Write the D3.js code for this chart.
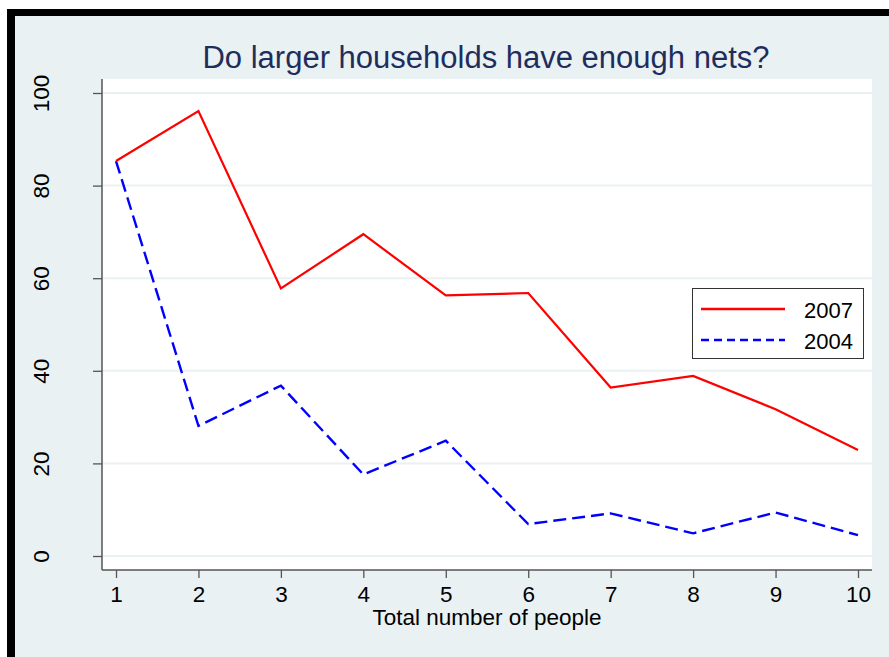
<!DOCTYPE html>
<html>
<head>
<meta charset="utf-8">
<script src="https://cdn.jsdelivr.net/npm/d3@7"></script>
<style>
  html, body { margin: 0; padding: 0; background: #ffffff; }
  svg { display: block; }
  text { font-family: "Liberation Sans", Arial, Helvetica, sans-serif; }
</style>
</head>
<body>
<script>
// ---- data ----
const householdSize = [1, 2, 3, 4, 5, 6, 7, 8, 9, 10];
const nets2007 = [85.3, 96.1, 57.8, 69.5, 56.3, 56.8, 36.4, 38.9, 31.7, 22.9];
const nets2004 = [85.3, 28.1, 36.8, 17.6, 24.9, 6.9, 9.2, 4.9, 9.4, 4.5];
const yTicks = [0, 20, 40, 60, 80, 100];
const xTicks = [1, 2, 3, 4, 5, 6, 7, 8, 9, 10];
const seriesNames = ["2007", "2004"];
const titleText = "Do larger households have enough nets?";
const xTitle = "Total number of people";

// ---- layout ----
const W = 889, H = 657;
const svg = d3.select("body").append("svg").attr("width", W).attr("height", H);

// outer frame
svg.append("rect").attr("x", 0).attr("y", 0).attr("width", W).attr("height", H).attr("fill", "#ffffff");
svg.append("rect").attr("x", 7).attr("y", 9).attr("width", W - 7).attr("height", H - 9).attr("fill", "#000000");
svg.append("rect").attr("x", 15).attr("y", 16).attr("width", W - 15).attr("height", H - 16).attr("fill", "#eaf1f3");

const plot = { left: 102, right: 872, top: 79, bottom: 570 };
svg.append("rect").attr("x", plot.left).attr("y", plot.top)
  .attr("width", plot.right - plot.left).attr("height", plot.bottom - plot.top)
  .attr("fill", "#ffffff");

const x = d3.scaleLinear().domain([1, 10]).range([116, 858]);
const y = d3.scaleLinear().domain([0, 100]).range([556, 93]);

// grid
svg.append("g").selectAll("line").data(yTicks).join("line")
  .attr("x1", plot.left).attr("x2", plot.right)
  .attr("y1", d => y(d)).attr("y2", d => y(d))
  .attr("stroke", "#eaf1f3").attr("stroke-width", 2);

// y axis
const yAxis = d3.axisLeft(y).tickValues(yTicks).tickSize(9).tickPadding(0).tickFormat(d3.format("d"));
const gy = svg.append("g").attr("transform", `translate(${plot.left},0)`).call(yAxis);
gy.select(".domain").remove();
gy.selectAll(".tick line").attr("stroke", "#555555").attr("stroke-width", 1.3);
gy.selectAll(".tick text")
  .attr("font-size", 22.5).attr("fill", "#000000")
  .attr("text-anchor", "middle")
  .attr("x", null).attr("dy", null)
  .attr("transform", "translate(-53,0) rotate(-90)");

// x axis
const xAxis = d3.axisBottom(x).tickValues(xTicks).tickSize(8).tickPadding(0).tickFormat(d3.format("d"));
const gx = svg.append("g").attr("transform", `translate(0,${plot.bottom})`).call(xAxis);
gx.select(".domain").remove();
gx.selectAll(".tick line").attr("stroke", "#555555").attr("stroke-width", 1.3);
gx.selectAll(".tick text")
  .attr("font-size", 22.5).attr("fill", "#000000")
  .attr("dy", null).attr("y", 32);

// axis lines
svg.append("line").attr("x1", plot.left).attr("x2", plot.left)
  .attr("y1", plot.top).attr("y2", plot.bottom)
  .attr("stroke", "#555555").attr("stroke-width", 1.5);
svg.append("line").attr("x1", plot.left).attr("x2", plot.right)
  .attr("y1", plot.bottom).attr("y2", plot.bottom)
  .attr("stroke", "#555555").attr("stroke-width", 1.5);

// lines
const line = d3.line().x((d, i) => x(householdSize[i])).y(d => y(d));
svg.append("path").datum(nets2004).attr("d", line)
  .attr("fill", "none").attr("stroke", "#0000ff").attr("stroke-width", 2.4)
  .attr("stroke-dasharray", "13,6");
svg.append("path").datum(nets2007).attr("d", line)
  .attr("fill", "none").attr("stroke", "#ff0000").attr("stroke-width", 2.2)
  .attr("stroke-linejoin", "miter");

// title
svg.append("text").attr("x", 486).attr("y", 68).attr("text-anchor", "middle")
  .attr("font-size", 31).attr("fill", "#1f2d5c").text(titleText);

// x title
svg.append("text").attr("x", 487).attr("y", 625).attr("text-anchor", "middle")
  .attr("font-size", 22.5).attr("fill", "#000000").text(xTitle);

// legend
const lg = svg.append("g");
lg.append("rect").attr("x", 692.5).attr("y", 288.5).attr("width", 171).attr("height", 70)
  .attr("fill", "#ffffff").attr("stroke", "#333333").attr("stroke-width", 1);
const legendItems = [
  { name: seriesNames[0], color: "#ff0000", dash: null, ly: 309 },
  { name: seriesNames[1], color: "#0000ff", dash: "8,5", ly: 340 }
];
legendItems.forEach(it => {
  lg.append("line").attr("x1", 701).attr("x2", 785).attr("y1", it.ly).attr("y2", it.ly)
    .attr("stroke", it.color).attr("stroke-width", 2.3)
    .attr("stroke-dasharray", it.dash);
  lg.append("text").attr("x", 804).attr("y", it.ly + 9).attr("font-size", 22)
    .attr("fill", "#000000").text(it.name);
});
</script>
</body>
</html>
